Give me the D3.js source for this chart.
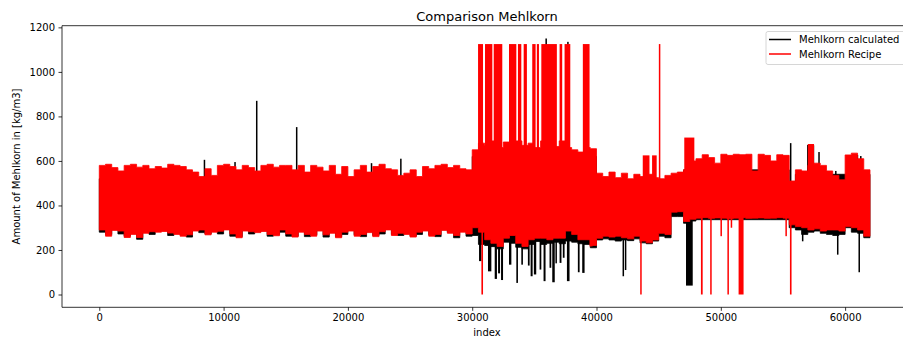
<!DOCTYPE html>
<html>
<head>
<meta charset="utf-8">
<script src="https://cdn.jsdelivr.net/npm/d3@7"></script>
<style>
  body { margin: 0; background: #fff; }
  text { font-family: "DejaVu Sans", sans-serif; }
</style>
</head>
<body>
<svg id="chart" width="903" height="337"></svg>
<script>
// Each series is summarised per block of 500 index steps: lowest and highest value in the block.
const binSize = 500;

const redHi = [
  580,585,570,555,580,585,572,580,565,575, 568,585,580,575,560,550,530,565,535,580,
  585,575,560,580,570,555,580,585,572,580,
  580,560,580,550,580,572,555,580,540,575, 530,560,580,550,575,585,565,560,535,545,
  560,530,575,565,580,585,570,580,565,560,
  650,680,670,690,660,685,650,690,670,680, 660,690,675,665,690,660,650,640,660,655,
  545,530,550,525,545,520,540,530,540,525,520,535,
  545,550,560,600,
  610,628,615,590,630,625,630,628,630,555, 630,625,600,628,625,510,560,555,580,590,
  580,555,535,515,627,635,610,560
];
const redLo = [
  290,262,288,285,256,270,256,275,282,280, 283,276,270,262,268,285,290,268,280,284,
  290,272,255,285,282,278,283,270,264,290,
  272,258,280,270,262,285,268,275,255,280, 285,262,270,278,260,282,290,265,275,270,
  258,280,285,262,270,288,275,265,280,272,
  300,280,246,230,216,253,265,230,216,246, 253,253,246,253,253,285,270,246,246,220,
  253,262,258,262,255,250,262,240,232,245,275,270,
  370,372,328,338,
  343,345,342,344,343,340,343,345,342,343, 344,342,343,345,343,313,305,300,290,295,
  285,290,290,285,305,300,290,262
];
const blackHi = [
  520,520,520,520,520,520,520,520,520,520, 520,520,520,520,520,520,520,520,520,520,
  520,520,520,520,520,520,520,520,520,520,
  520,520,520,520,520,520,520,520,520,520, 520,520,520,520,520,520,520,520,520,520,
  520,520,520,520,520,520,520,520,520,520,
  620,620,620,620,620,620,620,620,620,620, 620,620,620,620,620,620,620,620,620,620,
  500,500,500,500,500,500,500,500,500,500,500,500,
  520,520,560,560,
  560,560,560,560,560,560,560,560,560,560, 560,560,560,560,560,500,540,540,540,540,
  540,540,540,540,540,540,540,540
];
const blackLo = [
  280,270,292,272,262,275,248,280,270,285, 288,265,275,268,258,290,278,272,284,272,
  294,262,260,290,272,282,288,262,270,280,
  262,262,285,260,268,290,258,280,260,270, 290,268,260,282,265,272,294,270,265,275,
  262,270,290,268,260,292,280,255,285,262,
  265,225,220,215,205,235,230,212,205,225, 238,225,230,235,228,240,235,228,225,210,
  245,250,245,240,245,242,250,232,228,240,262,255,
  350,350,320,330,
  336,336,336,336,336,336,336,336,336,336, 336,336,336,336,336,300,290,270,280,285,
  275,270,265,270,300,280,275,255
];

// Isolated excursions: [first index, last index, value]
const blackPeaks = [
  [8460, 8460, 605], [10920, 10920, 595], [12665, 12665, 870], [15880, 15880, 752],
  [21900, 21900, 590], [24260, 24260, 610], [35950, 35950, 1150], [37700, 37700, 1135],
  [55620, 55620, 680], [57000, 57000, 672], [57450, 57450, 670], [57900, 57900, 640],
  [58580, 58580, 555], [59250, 59250, 555], [60320, 60320, 620], [60990, 60990, 627],
  [61260, 61260, 622]
];
const blackDips = [
  [30550, 30740, 150], [31270, 31540, 104], [31810, 31990, 70], [32080, 32240, 95],
  [32320, 32480, 65], [32960, 33150, 134], [33550, 33680, 52], [33950, 34080, 134],
  [34480, 34620, 130], [34700, 34860, 82], [34960, 35150, 90], [35420, 35560, 112],
  [35740, 35900, 60], [36220, 36360, 120], [36440, 36640, 55], [36700, 36810, 140],
  [37030, 37180, 142], [37290, 37430, 165], [37620, 37830, 60], [38500, 38640, 100],
  [38850, 39040, 97], [42110, 42200, 82], [42300, 42380, 110], [47200, 47740, 40],
  [56570, 56600, 239], [59390, 59420, 179], [61120, 61150, 100]
];
const redPeaks = [
  [30470, 30870, 1125], [31030, 31620, 1125], [31730, 32420, 1125], [32960, 33550, 1125],
  [33680, 33950, 1125], [34140, 34400, 1125], [34830, 35100, 1125], [35200, 35370, 1125],
  [35560, 36810, 1125], [37030, 37240, 1125], [37430, 37890, 1125], [38900, 39440, 1125],
  [43720, 44260, 625], [44470, 44840, 625], [45050, 45100, 1125], [47060, 47870, 705],
  [57000, 57500, 676]
];
const redDips = [
  [30740, 30870, 0], [39440, 39680, 216], [43530, 43620, 0], [48400, 48540, 0],
  [49150, 49260, 0], [50000, 50060, 262], [50550, 50630, 0], [50830, 50880, 300],
  [51430, 51830, 0], [55230, 55280, 262], [55560, 55690, 0]
];

const xTicks = [0, 10000, 20000, 30000, 40000, 50000, 60000];
const yTicks = [0, 200, 400, 600, 800, 1000, 1200];
const seriesNames = ["Mehlkorn calculated", "Mehlkorn Recipe"];
const seriesColors = ["#000000", "#ff0000"];

const svg = d3.select("#chart");
const plot = { left: 62, right: 912, top: 25.7, bottom: 307.3 };

const x = d3.scaleLinear().domain([-3000, 65380]).range([plot.left, plot.right]);
const y = d3.scaleLinear().domain([-57.5, 1207.5]).range([plot.bottom, plot.top]);

svg.append("rect").attr("width", 903).attr("height", 337).attr("fill", "#fff");

svg.append("clipPath").attr("id", "plotClip")
  .append("rect")
  .attr("x", plot.left).attr("y", plot.top)
  .attr("width", plot.right - plot.left).attr("height", plot.bottom - plot.top);

const g = svg.append("g").attr("clip-path", "url(#plotClip)");

// Turn per-block extremes into step points for an area band
function bandPoints(lo, hi) {
  const pts = [];
  lo.forEach((l, i) => {
    pts.push({ t: i * binSize, lo: l, hi: hi[i] });
    pts.push({ t: (i + 1) * binSize, lo: l, hi: hi[i] });
  });
  return pts;
}

const band = d3.area()
  .x(d => x(d.t))
  .y0(d => y(d.lo))
  .y1(d => y(d.hi));

function drawSpikes(data, base, color) {
  g.append("g").selectAll("rect").data(data).join("rect")
    .attr("x", d => {
      const w = Math.max(1.5, x(d[1]) - x(d[0]));
      return (x(d[0]) + x(d[1])) / 2 - w / 2;
    })
    .attr("width", d => Math.max(1.5, x(d[1]) - x(d[0])))
    .attr("y", d => Math.min(y(d[2]), y(base)))
    .attr("height", d => Math.abs(y(d[2]) - y(base)))
    .attr("fill", color);
}

// calculated series (underneath)
g.append("path")
  .attr("d", band(bandPoints(blackLo, blackHi)))
  .attr("fill", seriesColors[0]).attr("stroke", seriesColors[0]).attr("stroke-width", 0.8);
drawSpikes(blackPeaks, 450, seriesColors[0]);
drawSpikes(blackDips, 400, seriesColors[0]);

// recipe series (on top)
g.append("path")
  .attr("d", band(bandPoints(redLo, redHi)))
  .attr("fill", seriesColors[1]).attr("stroke", seriesColors[1]).attr("stroke-width", 0.8);
drawSpikes(redPeaks, 450, seriesColors[1]);
drawSpikes(redDips, 400, seriesColors[1]);

// axes
const xAxis = svg.append("g")
  .attr("transform", `translate(0,${plot.bottom})`)
  .call(d3.axisBottom(x).tickValues(xTicks).tickFormat(d3.format("d"))
    .tickSize(3.5).tickPadding(3.5));
const yAxis = svg.append("g")
  .attr("transform", `translate(${plot.left},0)`)
  .call(d3.axisLeft(y).tickValues(yTicks).tickFormat(d3.format("d"))
    .tickSize(3.5).tickPadding(3.5));
[xAxis, yAxis].forEach(a => {
  a.select(".domain").remove();
  a.selectAll(".tick line").attr("stroke", "#000").attr("stroke-width", 0.8);
  a.selectAll(".tick text").attr("fill", "#000").style("font-size", "10px")
    .style("font-family", "'DejaVu Sans', sans-serif");
});

// spines
const spine = (x1, y1, x2, y2) => svg.append("line")
  .attr("x1", x1).attr("y1", y1).attr("x2", x2).attr("y2", y2)
  .attr("stroke", "#000").attr("stroke-width", 0.8);
spine(plot.left, plot.top, plot.left, plot.bottom);
spine(plot.left, plot.bottom, plot.right, plot.bottom);
spine(plot.left, plot.top, plot.right, plot.top);
spine(plot.right, plot.top, plot.right, plot.bottom);

// titles
const cx = (plot.left + plot.right) / 2;
svg.append("text").attr("x", cx).attr("y", 20.5).attr("text-anchor", "middle")
  .style("font-size", "13px").attr("fill", "#000").text("Comparison Mehlkorn");
svg.append("text").attr("x", cx).attr("y", 335.5).attr("text-anchor", "middle")
  .style("font-size", "10px").attr("fill", "#000").text("index");
svg.append("text")
  .attr("transform", `translate(20,${(plot.top + plot.bottom) / 2}) rotate(-90)`)
  .attr("text-anchor", "middle")
  .style("font-size", "10px").attr("fill", "#000").text("Amount of Mehlkorn in [kg/m3]");

// legend
const lg = svg.append("g").attr("transform", "translate(766,31.5)");
lg.append("rect").attr("width", 146).attr("height", 33).attr("rx", 2)
  .attr("fill", "#fff").attr("fill-opacity", 0.8)
  .attr("stroke", "#cccccc").attr("stroke-width", 0.8);
seriesNames.forEach((name, i) => {
  const yy = 8 + i * 14.5;
  lg.append("line").attr("x1", 3).attr("x2", 25).attr("y1", yy).attr("y2", yy)
    .attr("stroke", seriesColors[i]).attr("stroke-width", 1.5);
  lg.append("text").attr("x", 33).attr("y", yy + 3.6)
    .style("font-size", "10px").attr("fill", "#000").text(name);
});
</script>
</body>
</html>
